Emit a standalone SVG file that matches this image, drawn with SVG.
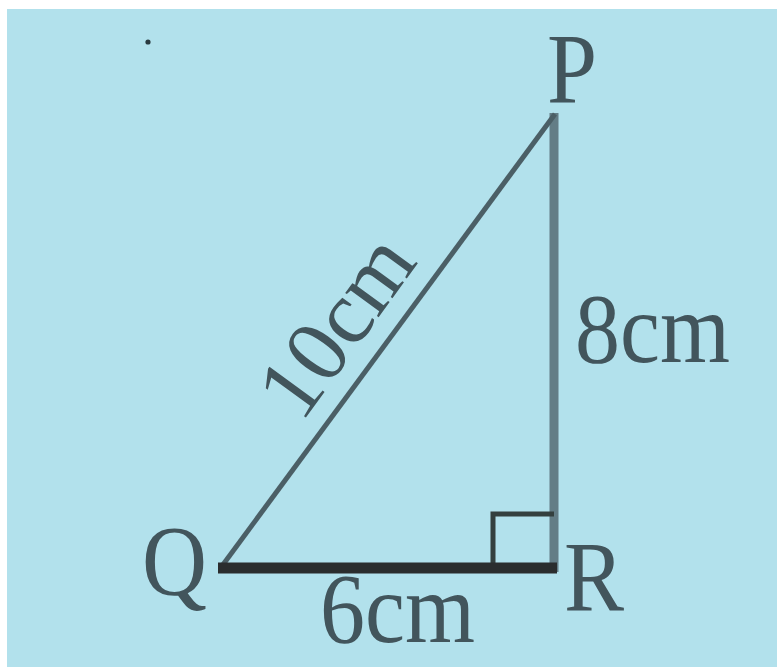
<svg xmlns="http://www.w3.org/2000/svg" width="777" height="667" viewBox="0 0 777 667">
<style>
.lbl{font-family:"Liberation Serif","Times New Roman",serif;font-size:90px;fill:#42555c}
</style>
<rect x="0" y="0" width="777" height="667" fill="#ffffff"/>
<rect x="7" y="9" width="770" height="658" fill="#b2e1ec"/>
<circle cx="148" cy="42" r="2.6" fill="#2a3a40"/>
<g id="connectors" fill="none">
<line x1="554" y1="113" x2="554" y2="572" stroke="#637d86" stroke-width="9"/>
<line x1="222" y1="566" x2="555" y2="114" stroke="#4b5f66" stroke-width="5"/>
<polyline points="493,568 493,514 554,514" stroke="#34403f" stroke-width="5"/>
<line x1="218" y1="568" x2="557" y2="568" stroke="#2a2d2e" stroke-width="11"/>
</g>
<g id="P"><text class="lbl" transform="matrix(1,0,0,1.1,547,102)">P</text></g>
<g id="Q"><text class="lbl" transform="matrix(1,0,0,1.1,142,594)">Q</text></g>
<g id="R"><text class="lbl" transform="matrix(1,0,0,1.1,564,610)">R</text></g>
<g id="label-PR"><text class="lbl" transform="matrix(1,0,0,1.1,575,362)">8cm</text></g>
<g id="label-QR"><text class="lbl" transform="matrix(1,0,0,1.1,320,642)">6cm</text></g>
<g id="label-PQ"><text class="lbl" text-anchor="middle" font-size="88" transform="translate(360,343) rotate(-54)">10cm</text></g>
</svg>
